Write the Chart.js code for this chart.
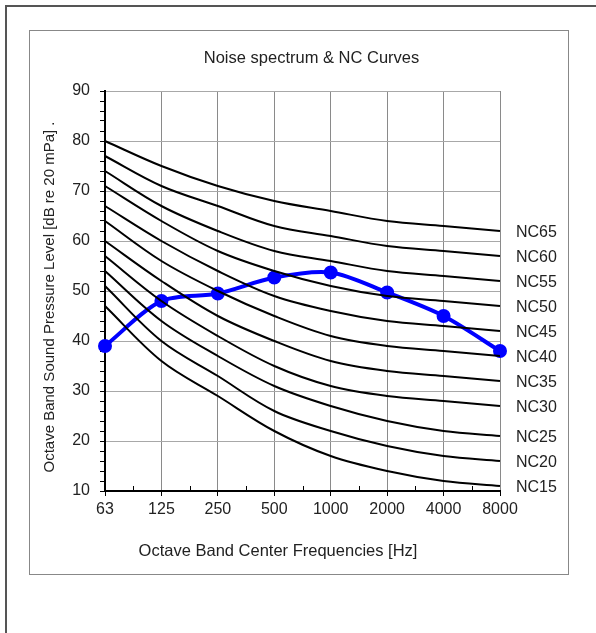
<!DOCTYPE html>
<html>
<head>
<meta charset="utf-8">
<script src="https://cdn.jsdelivr.net/npm/chart.js@4"></script>
<style>
  html, body { margin: 0; padding: 0; background: #fff; }
  #wrap { position: relative; width: 596px; height: 633px; overflow: hidden; }
  #outer { position: absolute; left: 5px; top: 5px; width: 620px; height: 660px; border-top: 2px solid #555; border-left: 2px solid #555; box-sizing: border-box; }
  #inner { position: absolute; left: 29px; top: 30px; width: 540px; height: 545px; border: 1px solid #888; box-sizing: border-box; }
  canvas { position: absolute; left: 0; top: 0; }
</style>
</head>
<body>
<div id="wrap">
  <div id="outer"></div>
  <div id="inner"></div>
  <canvas id="c" width="596" height="633"></canvas>
</div>
<script>
// ---- data ----
const chartTitle = 'Noise spectrum & NC Curves';
const xTitle = 'Octave Band Center Frequencies [Hz]';
const yTitle = 'Octave Band Sound Pressure Level [dB re 20 mPa] .';
const frequencies = ['63', '125', '250', '500', '1000', '2000', '4000', '8000'];
const ncNames = ['NC15', 'NC20', 'NC25', 'NC30', 'NC35', 'NC40', 'NC45', 'NC50', 'NC55', 'NC60', 'NC65'];
const nc15 = [47, 36, 29, 22, 17, 14, 12, 11];
const nc20 = [51, 40, 33, 26, 22, 19, 17, 16];
const nc25 = [54, 44, 37, 31, 27, 24, 22, 21];
const nc30 = [57, 48, 41, 35, 31, 29, 28, 27];
const nc35 = [60, 52, 45, 40, 36, 34, 33, 32];
const nc40 = [64, 56, 50, 45, 41, 39, 38, 37];
const nc45 = [67, 60, 54, 49, 46, 44, 43, 42];
const nc50 = [71, 64, 58, 54, 51, 49, 48, 47];
const nc55 = [74, 67, 62, 58, 56, 54, 53, 52];
const nc60 = [77, 71, 67, 63, 61, 59, 58, 57];
const nc65 = [80, 75, 71, 68, 66, 64, 63, 62];
const noiseSpectrum = [39, 48, 49.5, 52.7, 53.7, 49.7, 45, 38];
const yMajorTicks = [10, 20, 30, 40, 50, 60, 70, 80, 90];
const yMinorStep = 2;

const ncSeries = [nc15, nc20, nc25, nc30, nc35, nc40, nc45, nc50, nc55, nc60, nc65];
const FONT = '"Liberation Sans", Arial, sans-serif';

const datasets = ncSeries.map((s, i) => ({
  label: ncNames[i],
  data: s,
  borderColor: '#000',
  borderWidth: 2,
  pointRadius: 0,
  tension: 0.35,
  fill: false
}));
datasets.push({
  label: 'Noise spectrum',
  data: noiseSpectrum,
  borderColor: '#0000ff',
  backgroundColor: '#0000ff',
  pointBackgroundColor: '#0000ff',
  pointBorderColor: '#0000ff',
  borderWidth: 4,
  pointRadius: 5,
  tension: 0.3,
  clip: false,
  fill: false
});

const decor = {
  id: 'decor',
  afterDraw(chart) {
    const { ctx, chartArea: a, scales: { x, y } } = chart;
    ctx.save();
    // minor x ticks (half-octave), inside plot
    ctx.strokeStyle = '#000';
    ctx.lineWidth = 1;
    for (let i = 0; i < frequencies.length - 1; i++) {
      const px = Math.round(x.getPixelForValue(i + 0.5)) + 0.5;
      ctx.beginPath();
      ctx.moveTo(px, a.bottom);
      ctx.lineTo(px, a.bottom - 5);
      ctx.stroke();
    }
    // NC labels at the end of each curve
    ctx.fillStyle = '#222';
    ctx.font = '16px ' + FONT;
    ctx.textAlign = 'left';
    ctx.textBaseline = 'middle';
    ncSeries.forEach((s, i) => {
      const py = y.getPixelForValue(s[s.length - 1]);
      ctx.fillText(ncNames[i], a.right + 16, py + 1.5);
    });
    // titles
    ctx.textAlign = 'center';
    ctx.font = '16.5px ' + FONT;
    ctx.fillText(chartTitle, 311.5, 58);
    ctx.fillText(xTitle, 278, 551);
    ctx.save();
    ctx.translate(50, 297);
    ctx.rotate(-Math.PI / 2);
    ctx.font = '15px ' + FONT;
    ctx.fillText(yTitle, 0, 0);
    ctx.restore();
    ctx.restore();
  }
};

new Chart(document.getElementById('c'), {
  type: 'line',
  data: { labels: frequencies, datasets },
  plugins: [decor],
  options: {
    responsive: false,
    animation: false,
    devicePixelRatio: 1,
    layout: { padding: { left: 55, right: 96, top: 91, bottom: 102 } },
    plugins: { legend: { display: false }, tooltip: { enabled: false }, title: { display: false } },
    scales: {
      x: {
        type: 'category',
        offset: false,
        afterFit(scale) { scale.height = 40; },
        border: { display: true, color: '#000', width: 2 },
        grid: { color: '#8a8a8a', lineWidth: 1, tickColor: '#000', tickLength: 5, drawTicks: true },
        ticks: { color: '#222', font: { family: FONT, size: 16 }, padding: 4, autoSkip: false, maxRotation: 0 }
      },
      y: {
        type: 'linear',
        min: yMajorTicks[0],
        max: yMajorTicks[yMajorTicks.length - 1],
        afterFit(scale) { scale.width = 50; },
        afterBuildTicks(scale) {
          const t = [];
          for (let v = yMajorTicks[0]; v <= yMajorTicks[yMajorTicks.length - 1]; v += yMinorStep) t.push({ value: v });
          scale.ticks = t;
        },
        border: { display: true, color: '#000', width: 2 },
        grid: {
          color: (c) => (c.tick && yMajorTicks.includes(c.tick.value)) ? '#a8a8a8' : 'rgba(0,0,0,0)',
          tickColor: '#000',
          lineWidth: 1,
          tickLength: 5,
          drawTicks: true
        },
        ticks: {
          color: '#222',
          font: { family: FONT, size: 16 },
          padding: 10,
          autoSkip: false,
          callback: (v) => yMajorTicks.includes(v) ? String(v) : ''
        }
      }
    }
  }
});
</script>
</body>
</html>
